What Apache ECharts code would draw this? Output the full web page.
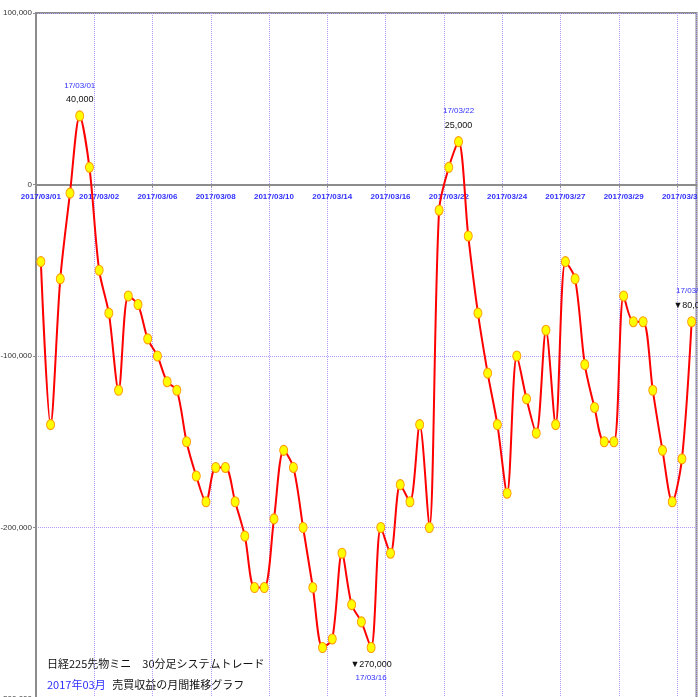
<!DOCTYPE html>
<html>
<head>
<meta charset="utf-8">
<script src="https://cdn.jsdelivr.net/npm/echarts@6/dist/echarts.min.js"></script>
<style>
html,body{margin:0;padding:0;background:#fff;}
#chart{width:698px;height:697px;}
</style>
</head>
<body>
<div id="chart"></div>
<script>
// Tick labels shown every 6th point on the x axis
const tickLabels = ['2017/03/01','2017/03/02','2017/03/06','2017/03/08','2017/03/10','2017/03/14',
  '2017/03/16','2017/03/22','2017/03/24','2017/03/27','2017/03/29','2017/03/31'];
// Cumulative profit values (yen), one per trade point
const values = [
  -45000, -140000, -55000, -5000, 40000, 10000,
  -50000, -75000, -120000, -65000, -70000, -90000,
  -100000, -115000, -120000, -150000, -170000, -185000,
  -165000, -165000, -185000, -205000, -235000, -235000,
  -195000, -155000, -165000, -200000, -235000, -270000,
  -265000, -215000, -245000, -255000, -270000, -200000,
  -215000, -175000, -185000, -140000, -200000, -15000,
  10000, 25000, -30000, -75000, -110000, -140000,
  -180000, -100000, -125000, -145000, -85000, -140000,
  -45000, -55000, -105000, -130000, -150000, -150000,
  -65000, -80000, -80000, -120000, -155000, -185000,
  -160000, -80000
];
const categories = values.map((v, i) => String(i + 1));
// Annotated points
const annIndex = [4, 34, 43, 67];
const annDate = ['17/03/01', '17/03/16', '17/03/22', '17/03/31'];
const annText = ['40,000', '▼270,000', '25,000', '▼80,000'];
const annPos = ['top', 'bottom', 'top', 'top'];
// Y ticks
const yMin = -300000, yMax = 100000, yStep = 100000;

const BLUE = '#3030ff';
const GRIDC = '#b49cff';
const AXISC = '#8c8c8c';

const GRID_TOP = 13, GRID_H = 686;
// distance from grid bottom up to the zero line
const zeroOffset = GRID_H * (0 - yMin) / (yMax - yMin);

function fmt(n) {
  const s = Math.abs(n).toString().replace(/\B(?=(\d{3})+(?!\d))/g, ',');
  return (n < 0 ? '-' : '') + s;
}

const seriesData = values.map((v, i) => {
  const k = annIndex.indexOf(i);
  if (k < 0) return v;
  const top = annPos[k] === 'top';
  return {
    value: v,
    label: {
      show: true,
      position: annPos[k],
      distance: 4,
      formatter: top ? '{d|' + annDate[k] + '}\n{v|' + annText[k] + '}'
                     : '{v|' + annText[k] + '}\n{d|' + annDate[k] + '}',
      rich: {
        d: { color: BLUE, fontSize: 8, fontFamily: 'Liberation Sans', lineHeight: 14, align: 'center' },
        v: { color: '#111', fontSize: 9, fontFamily: 'Liberation Sans', lineHeight: 14, align: 'center' }
      }
    }
  };
});

const chart = echarts.init(document.getElementById('chart'), null, { renderer: 'canvas' });
chart.setOption({
  animation: false,
  backgroundColor: '#fff',
  grid: {
    left: 36, right: 1.5, top: GRID_TOP, height: GRID_H,
    outerBoundsMode: 'none',
    containLabel: false,
    show: true, borderColor: AXISC, borderWidth: 2, backgroundColor: 'transparent'
  },
  xAxis: {
    type: 'category',
    data: categories,
    boundaryGap: true,
    position: 'bottom',
    offset: -zeroOffset,
    axisLine: { show: true, onZero: false, lineStyle: { color: AXISC, width: 2 } },
    axisTick: { show: true, interval: 5, length: 3, lineStyle: { color: AXISC } },
    axisLabel: {
      interval: 5,
      color: BLUE,
      fontSize: 8,
      fontWeight: 'bold',
      fontFamily: 'Liberation Sans',
      margin: 8,
      formatter: (val, i) => tickLabels[Math.round(i / 6)] || ''
    },
    splitLine: { show: true, interval: 5, lineStyle: { color: GRIDC, type: 'dotted', width: 1 } }
  },
  yAxis: {
    type: 'value',
    min: yMin, max: yMax, interval: yStep,
    axisLine: { show: true, lineStyle: { color: AXISC, width: 2 } },
    axisTick: { show: true, length: 3, lineStyle: { color: AXISC } },
    axisLabel: {
      color: '#333', fontSize: 8, fontFamily: 'Liberation Sans', margin: 4,
      formatter: v => fmt(v)
    },
    splitLine: { show: true, lineStyle: { color: GRIDC, type: 'dotted', width: 1 } }
  },
  series: [{
    type: 'line',
    data: seriesData,
    smooth: 0.3,
    symbol: 'circle',
    symbolSize: [8, 10],
    showAllSymbol: true,
    lineStyle: { color: '#ff0000', width: 2 },
    itemStyle: { color: '#ffff00', borderColor: '#ff9a00', borderWidth: 1 },
    label: { show: false }
  }],
  graphic: [
    {
      type: 'text', left: 47, top: 658,
      style: {
        text: '日経225先物ミニ　30分足システムトレード',
        fill: '#111', font: '11px "Noto Sans CJK JP"'
      }
    },
    {
      type: 'text', left: 47, top: 679,
      style: {
        text: '{b|2017年03月}  {k|売買収益の月間推移グラフ}',
        rich: {
          b: { fill: BLUE, color: BLUE, fontSize: 11, fontFamily: 'Noto Sans CJK JP' },
          k: { fill: '#111', color: '#111', fontSize: 11, fontFamily: 'Noto Sans CJK JP' }
        }
      }
    }
  ]
});
</script>
</body>
</html>
